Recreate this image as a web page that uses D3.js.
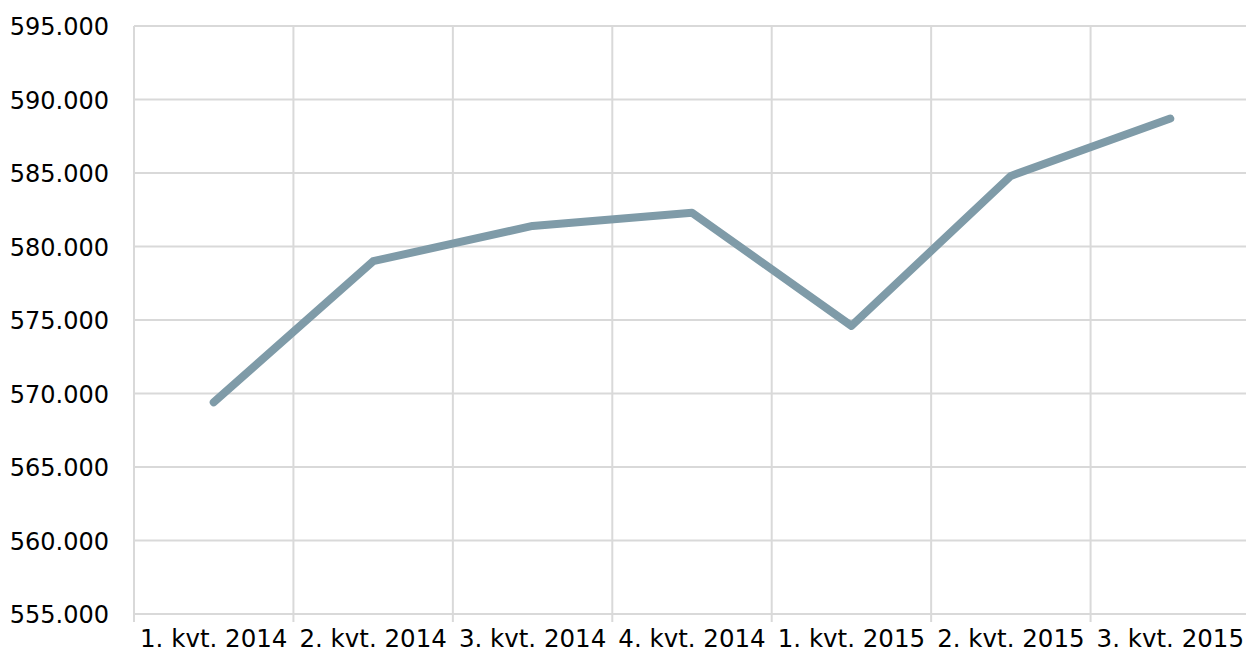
<!DOCTYPE html>
<html>
<head>
<meta charset="utf-8">
<script src="https://cdnjs.cloudflare.com/ajax/libs/d3/7.8.5/d3.min.js"></script>
<style>
  body { margin: 0; background: #fff; }
  svg text { font-family: "DejaVu Sans", Verdana, sans-serif; fill: #000; }
</style>
</head>
<body>
<div id="chart"></div>
<script>
// quarters on the x axis
var quarters = ["1. kvt. 2014", "2. kvt. 2014", "3. kvt. 2014", "4. kvt. 2014",
                "1. kvt. 2015", "2. kvt. 2015", "3. kvt. 2015"];
// values
var values = [569400, 579000, 581400, 582300, 574600, 584800, 588700];
// y ticks
var yTicks = [555000, 560000, 565000, 570000, 575000, 580000, 585000, 590000, 595000];

var W = 1246, H = 657;
var margin = {top: 26, right: -4, bottom: 43, left: 134},
    width = W - margin.left - margin.right,
    height = H - margin.top - margin.bottom;

// danish style thousands separator
var fmt = function(d) { return d3.format(",")(d).replace(/,/g, "."); };

var svg = d3.select("#chart").append("svg")
    .attr("width", W)
    .attr("height", H)
  .append("g")
    .attr("transform", "translate(" + margin.left + "," + margin.top + ")");

var x = d3.scaleBand()
    .domain(quarters)
    .range([0, width])
    .padding(0);

var y = d3.scaleLinear()
    .domain([555000, 595000])
    .range([height, 0]);

// horizontal grid
svg.append("g")
    .selectAll("line")
    .data(yTicks)
    .enter().append("line")
    .attr("x1", 0)
    .attr("x2", width)
    .attr("y1", function(d) { return y(d); })
    .attr("y2", function(d) { return y(d); })
    .style("stroke", "#d9d9d9")
    .style("stroke-width", 2);

// vertical grid at category boundaries, running a bit below the axis
var bounds = quarters.map(function(q) { return x(q); }).concat([width]);
svg.append("g")
    .selectAll("line")
    .data(bounds)
    .enter().append("line")
    .attr("x1", function(d) { return d; })
    .attr("x2", function(d) { return d; })
    .attr("y1", 0)
    .attr("y2", height + 8)
    .style("stroke", "#d9d9d9")
    .style("stroke-width", 2);

// y axis labels
var yAxis = svg.append("g")
    .call(d3.axisLeft(y).tickValues(yTicks).tickFormat(fmt).tickSize(0).tickPadding(25));
yAxis.select(".domain").remove();
yAxis.selectAll("text")
    .style("font-size", "24px")
    .attr("dy", "0.36em");

// x axis labels
var xAxis = svg.append("g")
    .attr("transform", "translate(0," + height + ")")
    .call(d3.axisBottom(x).tickSize(0).tickPadding(16));
xAxis.select(".domain").remove();
xAxis.selectAll("text")
    .style("font-size", "24.5px");

// the line
var line = d3.line()
    .x(function(d, i) { return x(quarters[i]) + x.bandwidth() / 2; })
    .y(function(d) { return y(d); });

svg.append("path")
    .datum(values)
    .attr("d", line)
    .style("fill", "none")
    .style("stroke", "#7f9ba8")
    .style("stroke-width", 8)
    .style("stroke-linecap", "round")
    .style("stroke-linejoin", "round");
</script>
</body>
</html>
